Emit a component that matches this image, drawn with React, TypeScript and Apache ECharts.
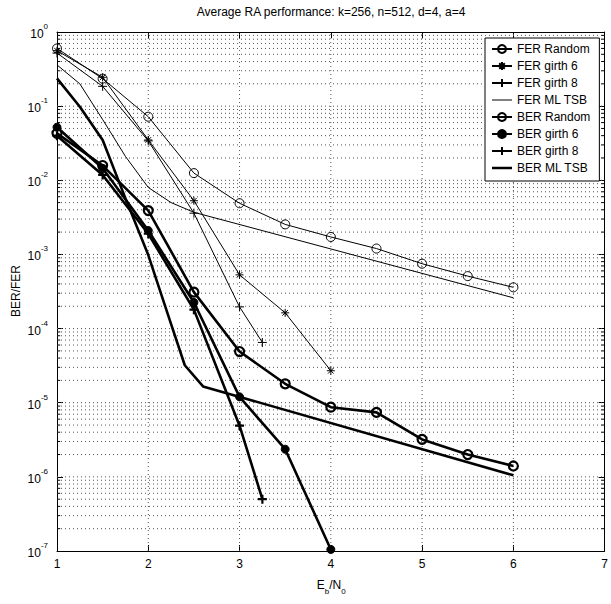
import React, { useEffect, useRef } from "react";
import * as echarts from "echarts";

const TITLE = "Average RA performance: k=256, n=512, d=4, a=4";
const X_TICKS = [1, 2, 3, 4, 5, 6, 7];
const Y_DECADES = [-7, -6, -5, -4, -3, -2, -1, 0];

const FER_RANDOM_X = [1, 1.5, 2, 2.5, 3, 3.5, 4, 4.5, 5, 5.5, 6];
const FER_RANDOM_Y = [0.6, 0.235, 0.072, 0.0125, 0.0049, 0.00254, 0.00172, 0.0012, 0.00075, 0.00051, 0.00036];

const FER_G6_X = [1, 1.5, 2, 2.5, 3, 3.5, 4];
const FER_G6_Y = [0.56, 0.245, 0.035, 0.0053, 0.00053, 0.000163, 2.7e-5];

const FER_G8_X = [1, 1.5, 2, 2.5, 3, 3.25];
const FER_G8_Y = [0.52, 0.185, 0.034, 0.0036, 0.000196, 6.5e-5];

const FER_ML_X = [1, 1.25, 1.5, 1.75, 2, 2.25, 2.5, 6];
const FER_ML_Y = [0.36, 0.2, 0.066, 0.021, 0.008, 0.005, 0.0037, 0.00026];

const BER_RANDOM_X = [1, 1.5, 2, 2.5, 3, 3.5, 4, 4.5, 5, 5.5, 6];
const BER_RANDOM_Y = [0.043, 0.0158, 0.0039, 0.00031, 4.9e-5, 1.8e-5, 8.7e-6, 7.4e-6, 3.2e-6, 2.0e-6, 1.4e-6];

const BER_G6_X = [1, 1.5, 2, 2.5, 3, 3.5, 4];
const BER_G6_Y = [0.052, 0.0145, 0.0021, 0.000225, 1.2e-5, 2.36e-6, 1.05e-7];

const BER_G8_X = [1, 1.5, 2, 2.5, 3, 3.25];
const BER_G8_Y = [0.04, 0.0118, 0.0019, 0.00018, 4.9e-6, 5e-7];

const BER_ML_X = [1, 1.25, 1.5, 1.75, 2, 2.25, 2.4, 2.6, 6];
const BER_ML_Y = [0.237, 0.098, 0.035, 0.0057, 0.00098, 0.000115, 3.2e-5, 1.66e-5, 1.05e-6];

const FONT = "'Liberation Sans', Arial, Helvetica, sans-serif";
const ASTERISK = "path://M5,0L5,10M0,5L10,5M1.5,1.5L8.5,8.5M8.5,1.5L1.5,8.5";
const PLUS = "path://M5,0L5,10M0,5L10,5";
const THIN_BAR = "path://M0,0L20,0L20,1L0,1Z";
const THICK_BAR = "path://M0,0L20,0L20,2.5L0,2.5Z";
const GRID_COLOR = "#555";

function pairs(xs: number[], ys: number[]) {
  return xs.map((x, i) => [x, ys[i]]);
}

function mk(name: string, xs: number[], ys: number[], o: any) {
  return {
    name,
    type: "line",
    data: pairs(xs, ys),
    z: 3,
    symbol: o.symbol || "none",
    symbolSize: o.size || 8,
    showSymbol: !!o.symbol,
    lineStyle: { color: "#000", width: o.width },
    itemStyle: {
      color: o.fill || "rgba(0,0,0,0)",
      borderColor: "#000",
      borderWidth: o.bw || 1,
    },
    emphasis: { disabled: true },
  };
}

function helper(name: string, data: number[][], style: any, z: number) {
  return {
    name,
    type: "line",
    data,
    symbol: "none",
    silent: true,
    z,
    lineStyle: style,
    emphasis: { disabled: true },
  };
}

export default function App() {
  const ref = useRef<HTMLDivElement>(null);
  useEffect(() => {
    const chart = echarts.init(ref.current!, null, { renderer: "svg" });
    const xMin = X_TICKS[0];
    const xMax = X_TICKS[X_TICKS.length - 1];
    const yMin = Math.pow(10, Y_DECADES[0]);
    const yMax = Math.pow(10, Y_DECADES[Y_DECADES.length - 1]);

    const minorVals: number[] = [];
    Y_DECADES.slice(0, -1).forEach((e) => {
      for (let k = 2; k <= 9; k++) minorVals.push(k * Math.pow(10, e));
    });
    const majorVals = Y_DECADES.slice(1, -1).map((e) => Math.pow(10, e));
    const dotted = { color: GRID_COLOR, width: 1, type: [1, 3] };

    const helpers: any[] = [];
    minorVals.concat(majorVals).forEach((v, i) => {
      helpers.push(helper("_g" + i, [[xMin, v], [xMax, v]], dotted, 1));
    });
    X_TICKS.slice(1, -1).forEach((x, i) => {
      helpers.push(helper("_v" + i, [[x, yMin], [x, yMax]], dotted, 1));
    });
    minorVals.forEach((v, i) => {
      helpers.push(helper("_tl" + i, [[xMin, v], [xMin + 0.035, v]], { color: "#000", width: 1 }, 2));
      helpers.push(helper("_tr" + i, [[xMax - 0.035, v], [xMax, v]], { color: "#000", width: 1 }, 2));
    });

    const yLabel = (v: number) => {
      const e = Math.round(Math.log10(v));
      return "{h| }{b|10}{s|" + (e === 0 ? "0" : "-" + Math.abs(e)) + "}";
    };

    const names = [
      "FER Random",
      "FER girth 6",
      "FER girth 8",
      "FER ML TSB",
      "BER Random",
      "BER girth 6",
      "BER girth 8",
      "BER ML TSB",
    ];
    const legendData = names.map((n) => {
      if (n === "FER ML TSB") return { name: n, icon: THIN_BAR, itemStyle: { color: "#000", borderWidth: 0 } };
      if (n === "BER ML TSB") return { name: n, icon: THICK_BAR, itemStyle: { color: "#000", borderWidth: 0 } };
      return { name: n };
    });

    const axisCommonX = {
      type: "value",
      min: xMin,
      max: xMax,
      interval: 1,
      axisLine: { show: true, lineStyle: { color: "#000", width: 1 } },
      axisTick: { inside: true, length: 6, lineStyle: { color: "#000" } },
      splitLine: { show: false },
    };
    const axisCommonY = {
      type: "log",
      logBase: 10,
      min: yMin,
      max: yMax,
      interval: 1,
      splitNumber: 7,
      axisLine: { show: true, lineStyle: { color: "#000", width: 1 } },
      axisTick: { inside: true, length: 6, lineStyle: { color: "#000" } },
      splitLine: { show: false },
    };

    const option: any = {
      animation: false,
      textStyle: { fontFamily: FONT },
      grid: { left: 57, right: 5, top: 32, bottom: 53 },
      xAxis: [
        {
          ...axisCommonX,
          axisLabel: { color: "#000", fontSize: 12, margin: 7, fontFamily: FONT },
        },
        { ...axisCommonX, position: "top", axisLabel: { show: false } },
      ],
      yAxis: [
        {
          ...axisCommonY,
          axisLabel: {
            color: "#000",
            margin: 9,
            padding: [4, 0, 0, 0],
            formatter: yLabel,
            rich: {
              h: { fontSize: 1, lineHeight: 23 },
              b: { fontSize: 12, lineHeight: 12, verticalAlign: "middle", color: "#000", fontFamily: FONT },
              s: { fontSize: 8, lineHeight: 9, verticalAlign: "top", color: "#000", fontFamily: FONT },
            },
          },
        },
        { ...axisCommonY, position: "right", axisLabel: { show: false } },
      ],
      legend: {
        data: legendData,
        orient: "vertical",
        left: 485,
        top: 38,
        itemWidth: 20,
        itemHeight: 10,
        itemGap: 5,
        padding: [5, 9, 7, 6],
        borderColor: "#000",
        borderWidth: 1,
        backgroundColor: "#fff",
        textStyle: { fontSize: 12, color: "#000", fontFamily: FONT },
        selectedMode: false,
      },
      graphic: [
        {
          type: "text",
          x: 331,
          y: 12,
          style: { text: TITLE, fontSize: 12, fontFamily: FONT, fill: "#000", textAlign: "center", textVerticalAlign: "middle" },
        },
        {
          type: "text",
          x: 16,
          y: 291,
          rotation: Math.PI / 2,
          style: { text: "BER/FER", fontSize: 12, fontFamily: FONT, fill: "#000", textAlign: "center", textVerticalAlign: "middle" },
        },
        {
          type: "text",
          x: 331,
          y: 587,
          style: {
            text: "{h| }{e|E}{s|b}{e|/N}{s|0}",
            textAlign: "center",
            textVerticalAlign: "middle",
            rich: {
              h: { fontSize: 1, lineHeight: 16 },
              e: { fontSize: 12, lineHeight: 12, verticalAlign: "top", fill: "#000", fontFamily: FONT },
              s: { fontSize: 8, lineHeight: 8, verticalAlign: "bottom", fill: "#000", fontFamily: FONT },
            },
          },
        },
      ],
      series: [
        ...helpers,
        mk("FER Random", FER_RANDOM_X, FER_RANDOM_Y, { symbol: "circle", size: 9, width: 1, bw: 1 }),
        mk("FER girth 6", FER_G6_X, FER_G6_Y, { symbol: ASTERISK, size: 8, width: 1, bw: 1 }),
        mk("FER girth 8", FER_G8_X, FER_G8_Y, { symbol: PLUS, size: 9, width: 1, bw: 1 }),
        mk("FER ML TSB", FER_ML_X, FER_ML_Y, { width: 1 }),
        mk("BER Random", BER_RANDOM_X, BER_RANDOM_Y, { symbol: "circle", size: 9, width: 2.6, bw: 2.2 }),
        mk("BER girth 6", BER_G6_X, BER_G6_Y, { symbol: "circle", size: 8, width: 2.6, bw: 1, fill: "#000" }),
        mk("BER girth 8", BER_G8_X, BER_G8_Y, { symbol: PLUS, size: 9, width: 2.6, bw: 2.2 }),
        mk("BER ML TSB", BER_ML_X, BER_ML_Y, { width: 2.6 }),
      ],
    };
    chart.setOption(option);
    return () => chart.dispose();
  }, []);
  return <div ref={ref} style={{ width: 611, height: 604, position: "absolute", left: 0, top: 0 }} />;
}
